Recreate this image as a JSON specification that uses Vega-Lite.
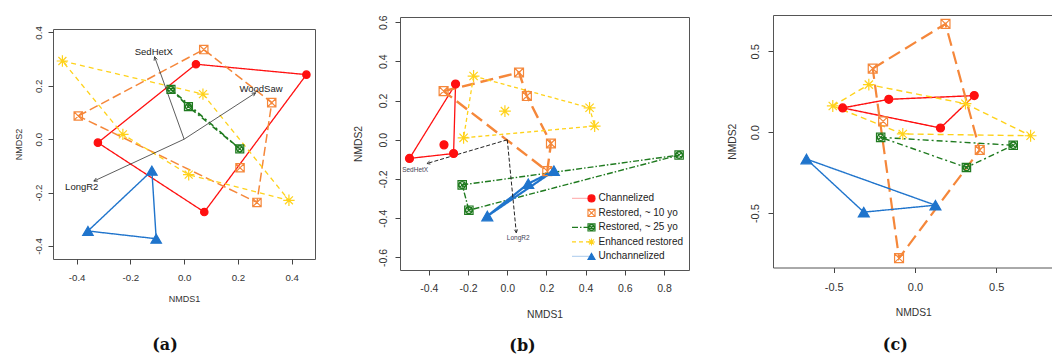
{
"$schema": "https://vega.github.io/schema/vega-lite/v6.json",
"padding": {"left": 13, "top": 0, "right": 0, "bottom": 0},
"config": {
  "font": "Liberation Sans",
  "view": {"stroke": "#555", "strokeWidth": 1},
  "axis": {"grid": false, "domain": false, "domainColor": "#555", "tickColor": "#444", "tickSize": 5, "labelColor": "#333", "titleColor": "#333", "titleFontWeight": "normal", "labelFont": "Liberation Sans", "titleFont": "Liberation Sans", "labelOverlap": false, "labelFlush": false},
  "legend": {"labelFont": "Liberation Sans", "symbolSize": 50}
},
"datasets": {
  "pts": [
    {"panel":"a","group":"Channelized","NMDS1":-0.321,"NMDS2":-0.013},
    {"panel":"a","group":"Channelized","NMDS1":0.044,"NMDS2":0.281},
    {"panel":"a","group":"Channelized","NMDS1":0.455,"NMDS2":0.242},
    {"panel":"a","group":"Channelized","NMDS1":0.075,"NMDS2":-0.273},
    {"panel":"a","group":"Restored, ~ 10 yo","NMDS1":-0.394,"NMDS2":0.087},
    {"panel":"a","group":"Restored, ~ 10 yo","NMDS1":0.073,"NMDS2":0.336},
    {"panel":"a","group":"Restored, ~ 10 yo","NMDS1":0.326,"NMDS2":0.137},
    {"panel":"a","group":"Restored, ~ 10 yo","NMDS1":0.208,"NMDS2":-0.107},
    {"panel":"a","group":"Restored, ~ 10 yo","NMDS1":0.271,"NMDS2":-0.237},
    {"panel":"a","group":"Restored, ~ 25 yo","NMDS1":-0.049,"NMDS2":0.187},
    {"panel":"a","group":"Restored, ~ 25 yo","NMDS1":0.016,"NMDS2":0.122},
    {"panel":"a","group":"Restored, ~ 25 yo","NMDS1":0.207,"NMDS2":-0.036},
    {"panel":"a","group":"Enhanced restored","NMDS1":-0.453,"NMDS2":0.293},
    {"panel":"a","group":"Enhanced restored","NMDS1":0.070,"NMDS2":0.169},
    {"panel":"a","group":"Enhanced restored","NMDS1":-0.228,"NMDS2":0.018},
    {"panel":"a","group":"Enhanced restored","NMDS1":0.017,"NMDS2":-0.133},
    {"panel":"a","group":"Enhanced restored","NMDS1":0.390,"NMDS2":-0.229},
    {"panel":"a","group":"Unchannelized","NMDS1":-0.120,"NMDS2":-0.118},
    {"panel":"a","group":"Unchannelized","NMDS1":-0.358,"NMDS2":-0.344},
    {"panel":"a","group":"Unchannelized","NMDS1":-0.104,"NMDS2":-0.373},
    {"panel":"b","group":"Channelized","NMDS1":-0.264,"NMDS2":0.284},
    {"panel":"b","group":"Channelized","NMDS1":-0.499,"NMDS2":-0.095},
    {"panel":"b","group":"Channelized","NMDS1":-0.274,"NMDS2":-0.070},
    {"panel":"b","group":"Channelized","NMDS1":-0.323,"NMDS2":-0.026},
    {"panel":"b","group":"Restored, ~ 10 yo","NMDS1":-0.325,"NMDS2":0.248},
    {"panel":"b","group":"Restored, ~ 10 yo","NMDS1":0.060,"NMDS2":0.343},
    {"panel":"b","group":"Restored, ~ 10 yo","NMDS1":0.100,"NMDS2":0.223},
    {"panel":"b","group":"Restored, ~ 10 yo","NMDS1":0.223,"NMDS2":-0.019},
    {"panel":"b","group":"Restored, ~ 10 yo","NMDS1":0.204,"NMDS2":-0.160},
    {"panel":"b","group":"Restored, ~ 25 yo","NMDS1":0.877,"NMDS2":-0.078},
    {"panel":"b","group":"Restored, ~ 25 yo","NMDS1":-0.230,"NMDS2":-0.230},
    {"panel":"b","group":"Restored, ~ 25 yo","NMDS1":-0.196,"NMDS2":-0.359},
    {"panel":"b","group":"Enhanced restored","NMDS1":-0.172,"NMDS2":0.325},
    {"panel":"b","group":"Enhanced restored","NMDS1":-0.012,"NMDS2":0.146},
    {"panel":"b","group":"Enhanced restored","NMDS1":0.420,"NMDS2":0.163},
    {"panel":"b","group":"Enhanced restored","NMDS1":0.446,"NMDS2":0.070},
    {"panel":"b","group":"Enhanced restored","NMDS1":-0.223,"NMDS2":0.010},
    {"panel":"b","group":"Unchannelized","NMDS1":0.238,"NMDS2":-0.158},
    {"panel":"b","group":"Unchannelized","NMDS1":0.107,"NMDS2":-0.224},
    {"panel":"b","group":"Unchannelized","NMDS1":-0.102,"NMDS2":-0.389},
    {"panel":"c","group":"Channelized","NMDS1":-0.445,"NMDS2":0.150},
    {"panel":"c","group":"Channelized","NMDS1":-0.161,"NMDS2":0.203},
    {"panel":"c","group":"Channelized","NMDS1":0.365,"NMDS2":0.226},
    {"panel":"c","group":"Channelized","NMDS1":0.157,"NMDS2":0.026},
    {"panel":"c","group":"Restored, ~ 10 yo","NMDS1":0.188,"NMDS2":0.669},
    {"panel":"c","group":"Restored, ~ 10 yo","NMDS1":-0.260,"NMDS2":0.393},
    {"panel":"c","group":"Restored, ~ 10 yo","NMDS1":-0.196,"NMDS2":0.067},
    {"panel":"c","group":"Restored, ~ 10 yo","NMDS1":0.399,"NMDS2":-0.110},
    {"panel":"c","group":"Restored, ~ 10 yo","NMDS1":-0.098,"NMDS2":-0.778},
    {"panel":"c","group":"Restored, ~ 25 yo","NMDS1":-0.211,"NMDS2":-0.032},
    {"panel":"c","group":"Restored, ~ 25 yo","NMDS1":0.605,"NMDS2":-0.081},
    {"panel":"c","group":"Restored, ~ 25 yo","NMDS1":0.317,"NMDS2":-0.218},
    {"panel":"c","group":"Enhanced restored","NMDS1":-0.506,"NMDS2":0.162},
    {"panel":"c","group":"Enhanced restored","NMDS1":-0.284,"NMDS2":0.294},
    {"panel":"c","group":"Enhanced restored","NMDS1":0.311,"NMDS2":0.176},
    {"panel":"c","group":"Enhanced restored","NMDS1":0.712,"NMDS2":-0.022},
    {"panel":"c","group":"Enhanced restored","NMDS1":-0.075,"NMDS2":-0.011},
    {"panel":"c","group":"Unchannelized","NMDS1":-0.668,"NMDS2":-0.166},
    {"panel":"c","group":"Unchannelized","NMDS1":0.126,"NMDS2":-0.451},
    {"panel":"c","group":"Unchannelized","NMDS1":-0.315,"NMDS2":-0.494}
  ],
  "hull": [
    {"panel":"a","group":"Channelized","i":0,"NMDS1":-0.321,"NMDS2":-0.013},
    {"panel":"a","group":"Channelized","i":1,"NMDS1":0.044,"NMDS2":0.281},
    {"panel":"a","group":"Channelized","i":2,"NMDS1":0.455,"NMDS2":0.242},
    {"panel":"a","group":"Channelized","i":3,"NMDS1":0.075,"NMDS2":-0.273},
    {"panel":"a","group":"Channelized","i":4,"NMDS1":-0.321,"NMDS2":-0.013},
    {"panel":"a","group":"Restored, ~ 10 yo","i":0,"NMDS1":-0.394,"NMDS2":0.087},
    {"panel":"a","group":"Restored, ~ 10 yo","i":1,"NMDS1":0.073,"NMDS2":0.336},
    {"panel":"a","group":"Restored, ~ 10 yo","i":2,"NMDS1":0.326,"NMDS2":0.137},
    {"panel":"a","group":"Restored, ~ 10 yo","i":3,"NMDS1":0.271,"NMDS2":-0.237},
    {"panel":"a","group":"Restored, ~ 10 yo","i":4,"NMDS1":-0.394,"NMDS2":0.087},
    {"panel":"a","group":"Restored, ~ 25 yo","i":0,"NMDS1":-0.049,"NMDS2":0.187},
    {"panel":"a","group":"Restored, ~ 25 yo","i":1,"NMDS1":0.016,"NMDS2":0.122},
    {"panel":"a","group":"Restored, ~ 25 yo","i":2,"NMDS1":0.207,"NMDS2":-0.036},
    {"panel":"a","group":"Restored, ~ 25 yo","i":3,"NMDS1":-0.049,"NMDS2":0.187},
    {"panel":"a","group":"Enhanced restored","i":0,"NMDS1":-0.453,"NMDS2":0.293},
    {"panel":"a","group":"Enhanced restored","i":1,"NMDS1":0.070,"NMDS2":0.169},
    {"panel":"a","group":"Enhanced restored","i":2,"NMDS1":0.390,"NMDS2":-0.229},
    {"panel":"a","group":"Enhanced restored","i":3,"NMDS1":0.017,"NMDS2":-0.133},
    {"panel":"a","group":"Enhanced restored","i":4,"NMDS1":-0.228,"NMDS2":0.018},
    {"panel":"a","group":"Enhanced restored","i":5,"NMDS1":-0.453,"NMDS2":0.293},
    {"panel":"a","group":"Unchannelized","i":0,"NMDS1":-0.120,"NMDS2":-0.118},
    {"panel":"a","group":"Unchannelized","i":1,"NMDS1":-0.358,"NMDS2":-0.344},
    {"panel":"a","group":"Unchannelized","i":2,"NMDS1":-0.104,"NMDS2":-0.373},
    {"panel":"a","group":"Unchannelized","i":3,"NMDS1":-0.120,"NMDS2":-0.118},
    {"panel":"b","group":"Channelized","i":0,"NMDS1":-0.264,"NMDS2":0.284},
    {"panel":"b","group":"Channelized","i":1,"NMDS1":-0.499,"NMDS2":-0.095},
    {"panel":"b","group":"Channelized","i":2,"NMDS1":-0.274,"NMDS2":-0.070},
    {"panel":"b","group":"Channelized","i":3,"NMDS1":-0.264,"NMDS2":0.284},
    {"panel":"b","group":"Restored, ~ 10 yo","i":0,"NMDS1":-0.325,"NMDS2":0.248},
    {"panel":"b","group":"Restored, ~ 10 yo","i":1,"NMDS1":0.060,"NMDS2":0.343},
    {"panel":"b","group":"Restored, ~ 10 yo","i":2,"NMDS1":0.100,"NMDS2":0.223},
    {"panel":"b","group":"Restored, ~ 10 yo","i":3,"NMDS1":0.223,"NMDS2":-0.019},
    {"panel":"b","group":"Restored, ~ 10 yo","i":4,"NMDS1":0.204,"NMDS2":-0.160},
    {"panel":"b","group":"Restored, ~ 10 yo","i":5,"NMDS1":-0.325,"NMDS2":0.248},
    {"panel":"b","group":"Restored, ~ 25 yo","i":0,"NMDS1":-0.230,"NMDS2":-0.230},
    {"panel":"b","group":"Restored, ~ 25 yo","i":1,"NMDS1":0.877,"NMDS2":-0.078},
    {"panel":"b","group":"Restored, ~ 25 yo","i":2,"NMDS1":-0.196,"NMDS2":-0.359},
    {"panel":"b","group":"Restored, ~ 25 yo","i":3,"NMDS1":-0.230,"NMDS2":-0.230},
    {"panel":"b","group":"Enhanced restored","i":0,"NMDS1":-0.172,"NMDS2":0.325},
    {"panel":"b","group":"Enhanced restored","i":1,"NMDS1":0.420,"NMDS2":0.163},
    {"panel":"b","group":"Enhanced restored","i":2,"NMDS1":0.446,"NMDS2":0.070},
    {"panel":"b","group":"Enhanced restored","i":3,"NMDS1":-0.223,"NMDS2":0.010},
    {"panel":"b","group":"Enhanced restored","i":4,"NMDS1":-0.172,"NMDS2":0.325},
    {"panel":"b","group":"Unchannelized","i":0,"NMDS1":0.238,"NMDS2":-0.158},
    {"panel":"b","group":"Unchannelized","i":1,"NMDS1":0.107,"NMDS2":-0.224},
    {"panel":"b","group":"Unchannelized","i":2,"NMDS1":-0.102,"NMDS2":-0.389},
    {"panel":"b","group":"Unchannelized","i":3,"NMDS1":0.238,"NMDS2":-0.158},
    {"panel":"c","group":"Channelized","i":0,"NMDS1":-0.445,"NMDS2":0.150},
    {"panel":"c","group":"Channelized","i":1,"NMDS1":-0.161,"NMDS2":0.203},
    {"panel":"c","group":"Channelized","i":2,"NMDS1":0.365,"NMDS2":0.226},
    {"panel":"c","group":"Channelized","i":3,"NMDS1":0.157,"NMDS2":0.026},
    {"panel":"c","group":"Channelized","i":4,"NMDS1":-0.445,"NMDS2":0.150},
    {"panel":"c","group":"Restored, ~ 10 yo","i":0,"NMDS1":-0.260,"NMDS2":0.393},
    {"panel":"c","group":"Restored, ~ 10 yo","i":1,"NMDS1":0.188,"NMDS2":0.669},
    {"panel":"c","group":"Restored, ~ 10 yo","i":2,"NMDS1":0.399,"NMDS2":-0.110},
    {"panel":"c","group":"Restored, ~ 10 yo","i":3,"NMDS1":-0.098,"NMDS2":-0.778},
    {"panel":"c","group":"Restored, ~ 10 yo","i":4,"NMDS1":-0.260,"NMDS2":0.393},
    {"panel":"c","group":"Restored, ~ 25 yo","i":0,"NMDS1":-0.211,"NMDS2":-0.032},
    {"panel":"c","group":"Restored, ~ 25 yo","i":1,"NMDS1":0.605,"NMDS2":-0.081},
    {"panel":"c","group":"Restored, ~ 25 yo","i":2,"NMDS1":0.317,"NMDS2":-0.218},
    {"panel":"c","group":"Restored, ~ 25 yo","i":3,"NMDS1":-0.211,"NMDS2":-0.032},
    {"panel":"c","group":"Enhanced restored","i":0,"NMDS1":-0.506,"NMDS2":0.162},
    {"panel":"c","group":"Enhanced restored","i":1,"NMDS1":-0.284,"NMDS2":0.294},
    {"panel":"c","group":"Enhanced restored","i":2,"NMDS1":0.311,"NMDS2":0.176},
    {"panel":"c","group":"Enhanced restored","i":3,"NMDS1":0.712,"NMDS2":-0.022},
    {"panel":"c","group":"Enhanced restored","i":4,"NMDS1":-0.075,"NMDS2":-0.011},
    {"panel":"c","group":"Enhanced restored","i":5,"NMDS1":-0.506,"NMDS2":0.162},
    {"panel":"c","group":"Unchannelized","i":0,"NMDS1":-0.668,"NMDS2":-0.166},
    {"panel":"c","group":"Unchannelized","i":1,"NMDS1":0.126,"NMDS2":-0.451},
    {"panel":"c","group":"Unchannelized","i":2,"NMDS1":-0.315,"NMDS2":-0.494},
    {"panel":"c","group":"Unchannelized","i":3,"NMDS1":-0.668,"NMDS2":-0.166}
  ],
  "vec": [
    {"panel":"a","var":"SedHetX","x0":0,"y0":0,"NMDS1":-0.110,"NMDS2":0.309,"lx":-0.113,"ly":0.325},
    {"panel":"a","var":"WoodSaw","x0":0,"y0":0,"NMDS1":0.266,"NMDS2":0.174,"lx":0.286,"ly":0.188},
    {"panel":"a","var":"LongR2","x0":0,"y0":0,"NMDS1":-0.336,"NMDS2":-0.157,"lx":-0.381,"ly":-0.178},
    {"panel":"b","var":"SedHetX","x0":0,"y0":0,"NMDS1":-0.410,"NMDS2":-0.121,"lx":-0.470,"ly":-0.152},
    {"panel":"b","var":"LongR2","x0":0,"y0":0,"NMDS1":0.046,"NMDS2":-0.474,"lx":0.056,"ly":-0.503}
  ]
},
"columns": 3,
"align": "none",
"spacing": 36,
"resolve": {"scale": {"color": "independent", "stroke": "independent", "fill": "independent", "shape": "independent", "size": "independent", "strokeDash": "independent", "strokeWidth": "independent"}},
"concat": [
  {
  "spacing": 0,
  "vconcat": [
  {"width": 10, "height": 25, "view": {"stroke": null}, "data": {"values": [{}]}, "mark": {"type": "point", "opacity": 0}},
  {
    "width": 262, "height": 230,
    "title": {"text": "(a)", "orient": "bottom", "anchor": "middle", "frame": "group", "dx": -19, "offset": 33.5, "font": "DejaVu Serif", "fontSize": 16, "fontWeight": "bold", "color": "#111"},
    "layer": [
      {
        "data": {"name": "hull"},
        "transform": [{"filter": "datum.panel === 'a'"}],
        "mark": {"type": "line"},
        "encoding": {
          "x": {"field": "NMDS1", "type": "quantitative", "scale": {"domain": [-0.488, 0.487], "nice": false, "zero": false},
                "axis": {"orient": "bottom", "values": [-0.4, -0.2, 0, 0.2, 0.4], "labelExpr": "replace(format(datum.value, '.1f'), '−', '-')", "labelFontSize": 9.7, "labelPadding": 8, "titleFontSize": 9, "titlePadding": 13, "title": "NMDS1"}},
          "y": {"field": "NMDS2", "type": "quantitative", "scale": {"domain": [-0.449, 0.413], "nice": false, "zero": false},
                "axis": {"orient": "left", "values": [-0.4, -0.2, 0, 0.2, 0.4], "labelExpr": "replace(format(datum.value, '.1f'), '−', '-')", "labelAngle": -90, "labelAlign": "center", "labelBaseline": "bottom", "labelFontSize": 9.7, "labelPadding": 5, "titleFontSize": 9, "titlePadding": 9.5, "title": "NMDS2"}},
          "order": {"field": "i", "type": "quantitative"},
          "color": {"field": "group", "type": "nominal", "scale": {"domain": ["Unchannelized", "Enhanced restored", "Restored, ~ 25 yo", "Restored, ~ 10 yo", "Channelized"], "range": ["#1f74cc", "#ffd21a", "#1f7a1f", "#f5873a", "#ff1010"]}, "legend": null},
          "strokeDash": {"field": "group", "type": "nominal", "scale": {"type": "ordinal", "domain": ["Unchannelized", "Enhanced restored", "Restored, ~ 25 yo", "Restored, ~ 10 yo", "Channelized"], "range": [[1, 0], [5, 4], [6, 3, 2, 3], [9, 4], [1, 0]]}, "legend": null},
          "strokeWidth": {"field": "group", "type": "nominal", "scale": {"type": "ordinal", "domain": ["Unchannelized", "Enhanced restored", "Restored, ~ 25 yo", "Restored, ~ 10 yo", "Channelized"], "range": [1.4, 1.3, 1.6, 1.5, 1.3]}, "legend": null}
        }
      },
      {
        "data": {"name": "vec"},
        "transform": [{"filter": "datum.panel === 'a'"}],
        "mark": {"type": "rule", "color": "#333", "strokeWidth": 0.8},
        "encoding": {
          "x": {"field": "x0", "type": "quantitative", "scale": {"domain": [-0.488, 0.487], "nice": false, "zero": false},
                "axis": {"orient": "bottom", "values": [-0.4, -0.2, 0, 0.2, 0.4], "labelExpr": "replace(format(datum.value, '.1f'), '−', '-')", "labelFontSize": 9.7, "labelPadding": 8, "titleFontSize": 9, "titlePadding": 13, "title": "NMDS1"}},
          "y": {"field": "y0", "type": "quantitative", "scale": {"domain": [-0.449, 0.413], "nice": false, "zero": false},
                "axis": {"orient": "left", "values": [-0.4, -0.2, 0, 0.2, 0.4], "labelExpr": "replace(format(datum.value, '.1f'), '−', '-')", "labelAngle": -90, "labelAlign": "center", "labelBaseline": "bottom", "labelFontSize": 9.7, "labelPadding": 5, "titleFontSize": 9, "titlePadding": 9.5, "title": "NMDS2"}},
          "x2": {"field": "NMDS1"},
          "y2": {"field": "NMDS2"}
        }
      },
      {
        "data": {"name": "vec"},
        "transform": [{"filter": "datum.panel === 'a'"}, {"calculate": "atan2(datum.NMDS1 - datum.x0, datum.NMDS2 - datum.y0) * 180 / PI", "as": "ang"}],
        "mark": {"type": "point", "shape": "M-0.5,1L0,0L0.5,1", "filled": false, "color": "#333", "strokeWidth": 0.8, "size": 50, "opacity": 1},
        "encoding": {
          "x": {"field": "NMDS1", "type": "quantitative", "scale": {"domain": [-0.488, 0.487], "nice": false, "zero": false},
                "axis": {"orient": "bottom", "values": [-0.4, -0.2, 0, 0.2, 0.4], "labelExpr": "replace(format(datum.value, '.1f'), '−', '-')", "labelFontSize": 9.7, "labelPadding": 8, "titleFontSize": 9, "titlePadding": 13, "title": "NMDS1"}},
          "y": {"field": "NMDS2", "type": "quantitative", "scale": {"domain": [-0.449, 0.413], "nice": false, "zero": false},
                "axis": {"orient": "left", "values": [-0.4, -0.2, 0, 0.2, 0.4], "labelExpr": "replace(format(datum.value, '.1f'), '−', '-')", "labelAngle": -90, "labelAlign": "center", "labelBaseline": "bottom", "labelFontSize": 9.7, "labelPadding": 5, "titleFontSize": 9, "titlePadding": 9.5, "title": "NMDS2"}},
          "angle": {"field": "ang", "type": "quantitative", "scale": null}
        }
      },
      {
        "data": {"name": "vec"},
        "transform": [{"filter": "datum.panel === 'a'"}],
        "mark": {"type": "text", "fontSize": 9.5, "color": "#222", "font": "Liberation Sans"},
        "encoding": {
          "x": {"field": "lx", "type": "quantitative", "scale": {"domain": [-0.488, 0.487], "nice": false, "zero": false},
                "axis": {"orient": "bottom", "values": [-0.4, -0.2, 0, 0.2, 0.4], "labelExpr": "replace(format(datum.value, '.1f'), '−', '-')", "labelFontSize": 9.7, "labelPadding": 8, "titleFontSize": 9, "titlePadding": 13, "title": "NMDS1"}},
          "y": {"field": "ly", "type": "quantitative", "scale": {"domain": [-0.449, 0.413], "nice": false, "zero": false},
                "axis": {"orient": "left", "values": [-0.4, -0.2, 0, 0.2, 0.4], "labelExpr": "replace(format(datum.value, '.1f'), '−', '-')", "labelAngle": -90, "labelAlign": "center", "labelBaseline": "bottom", "labelFontSize": 9.7, "labelPadding": 5, "titleFontSize": 9, "titlePadding": 9.5, "title": "NMDS2"}},
          "text": {"field": "var"}
        }
      },
      {
        "data": {"name": "pts"},
        "transform": [{"filter": "datum.panel === 'a'"}],
        "mark": {"type": "point", "strokeWidth": 1.2, "opacity": 1},
        "encoding": {
          "x": {"field": "NMDS1", "type": "quantitative", "scale": {"domain": [-0.488, 0.487], "nice": false, "zero": false},
                "axis": {"orient": "bottom", "values": [-0.4, -0.2, 0, 0.2, 0.4], "labelExpr": "replace(format(datum.value, '.1f'), '−', '-')", "labelFontSize": 9.7, "labelPadding": 8, "titleFontSize": 9, "titlePadding": 13, "title": "NMDS1"}},
          "y": {"field": "NMDS2", "type": "quantitative", "scale": {"domain": [-0.449, 0.413], "nice": false, "zero": false},
                "axis": {"orient": "left", "values": [-0.4, -0.2, 0, 0.2, 0.4], "labelExpr": "replace(format(datum.value, '.1f'), '−', '-')", "labelAngle": -90, "labelAlign": "center", "labelBaseline": "bottom", "labelFontSize": 9.7, "labelPadding": 5, "titleFontSize": 9, "titlePadding": 9.5, "title": "NMDS2"}},
          "stroke": {"field": "group", "type": "nominal", "scale": {"domain": ["Channelized", "Restored, ~ 10 yo", "Restored, ~ 25 yo", "Enhanced restored", "Unchannelized"], "range": ["#ff1010", "#f5873a", "#1f7a1f", "#ffd21a", "#1f74cc"]}, "legend": null},
          "fill": {"field": "group", "type": "nominal", "scale": {"domain": ["Channelized", "Restored, ~ 10 yo", "Restored, ~ 25 yo", "Enhanced restored", "Unchannelized"], "range": ["#ff1010", "transparent", "transparent", "transparent", "#1f74cc"]}, "legend": null},
          "shape": {"field": "group", "type": "nominal", "scale": {"domain": ["Channelized", "Restored, ~ 10 yo", "Restored, ~ 25 yo", "Enhanced restored", "Unchannelized"], "range": ["circle", "M-1,-1L1,-1L1,1L-1,1Z M-1,-1L1,1 M1,-1L-1,1", "M-1,-1L1,-1L1,1L-1,1Z M-0.7,-0.7L0.7,0.7 M0.7,-0.7L-0.7,0.7 M0.75,0A0.75,0.75 0 1,1 -0.75,0A0.75,0.75 0 1,1 0.75,0", "M-1,0L1,0M0,-1L0,1M-0.7,-0.7L0.7,0.7M-0.7,0.7L0.7,-0.7", "triangle-up"]}, "legend": null},
          "size": {"field": "group", "type": "nominal", "scale": {"type": "ordinal", "domain": ["Channelized", "Restored, ~ 10 yo", "Restored, ~ 25 yo", "Enhanced restored", "Unchannelized"], "range": [55, 70, 64, 130, 110]}, "legend": null}
        }
      }
    ]
  }
  ]
  },
  {
  "spacing": 0,
  "vconcat": [
  {"width": 10, "height": 13.7, "view": {"stroke": null}, "data": {"values": [{}]}, "mark": {"type": "point", "opacity": 0}},
  {
    "width": 289, "height": 253,
    "title": {"text": "(b)", "orient": "bottom", "anchor": "middle", "frame": "group", "dx": -22, "offset": 18.5, "font": "DejaVu Serif", "fontSize": 16, "fontWeight": "bold", "color": "#111"},
    "layer": [
      {
        "data": {"name": "hull"},
        "transform": [{"filter": "datum.panel === 'b'"}],
        "mark": {"type": "line"},
        "encoding": {
          "x": {"field": "NMDS1", "type": "quantitative", "scale": {"domain": [-0.5475, 0.9275], "nice": false, "zero": false},
                "axis": {"orient": "bottom", "values": [-0.4, -0.2, 0, 0.2, 0.4, 0.6, 0.8], "labelExpr": "replace(format(datum.value, '.1f'), '−', '-')", "labelFontSize": 10.5, "labelPadding": 8, "titleFontSize": 10.3, "titlePadding": 15.5, "title": "NMDS1"}},
          "y": {"field": "NMDS2", "type": "quantitative", "scale": {"domain": [-0.664, 0.626], "nice": false, "zero": false},
                "axis": {"orient": "left", "values": [-0.6, -0.4, -0.2, 0, 0.2, 0.4, 0.6], "labelExpr": "replace(format(datum.value, '.1f'), '−', '-')", "labelAngle": -90, "labelAlign": "center", "labelBaseline": "bottom", "labelFontSize": 10.5, "labelPadding": 7, "titleFontSize": 10.3, "titlePadding": 15, "title": "NMDS2"}},
          "order": {"field": "i", "type": "quantitative"},
          "color": {"field": "group", "type": "nominal", "scale": {"domain": ["Unchannelized", "Enhanced restored", "Restored, ~ 25 yo", "Restored, ~ 10 yo", "Channelized"], "range": ["#1f74cc", "#ffd21a", "#1f7a1f", "#f5873a", "#ff1010"]},
                    "legend": {"orient": "none", "legendX": 171, "legendY": 192.3, "title": null, "values": ["Channelized", "Restored, ~ 10 yo", "Restored, ~ 25 yo", "Enhanced restored", "Unchannelized"], "symbolType": "stroke", "symbolSize": 361, "symbolStrokeWidth": 1.2, "labelExpr": "''", "labelFontSize": 10, "labelOffset": 0, "rowPadding": 1.5, "clipHeight": 12.25, "padding": 0,
                               "encode": {"symbols": {"update": {"strokeOpacity": {"signal": "datum.value === 'Restored, ~ 10 yo' ? 0 : ((datum.value === 'Channelized' || datum.value === 'Unchannelized') ? 0.3 : 1)"}}}}}},
          "strokeDash": {"field": "group", "type": "nominal", "scale": {"type": "ordinal", "domain": ["Unchannelized", "Enhanced restored", "Restored, ~ 25 yo", "Restored, ~ 10 yo", "Channelized"], "range": [[1, 0], [4, 3], [6, 2, 1.5, 2], [13, 6], [1, 0]]}},
          "strokeWidth": {"field": "group", "type": "nominal", "scale": {"type": "ordinal", "domain": ["Channelized", "Unchannelized", "Enhanced restored", "Restored, ~ 25 yo", "Restored, ~ 10 yo"], "range": [1.3, 2.2, 1.3, 1.4, 2.4]}, "legend": null}
        }
      },
      {
        "data": {"name": "vec"},
        "transform": [{"filter": "datum.panel === 'b'"}],
        "mark": {"type": "rule", "color": "#222", "strokeWidth": 1, "strokeDash": [4, 2]},
        "encoding": {
          "x": {"field": "x0", "type": "quantitative", "scale": {"domain": [-0.5475, 0.9275], "nice": false, "zero": false},
                "axis": {"orient": "bottom", "values": [-0.4, -0.2, 0, 0.2, 0.4, 0.6, 0.8], "labelExpr": "replace(format(datum.value, '.1f'), '−', '-')", "labelFontSize": 10.5, "labelPadding": 8, "titleFontSize": 10.3, "titlePadding": 15.5, "title": "NMDS1"}},
          "y": {"field": "y0", "type": "quantitative", "scale": {"domain": [-0.664, 0.626], "nice": false, "zero": false},
                "axis": {"orient": "left", "values": [-0.6, -0.4, -0.2, 0, 0.2, 0.4, 0.6], "labelExpr": "replace(format(datum.value, '.1f'), '−', '-')", "labelAngle": -90, "labelAlign": "center", "labelBaseline": "bottom", "labelFontSize": 10.5, "labelPadding": 7, "titleFontSize": 10.3, "titlePadding": 15, "title": "NMDS2"}},
          "x2": {"field": "NMDS1"},
          "y2": {"field": "NMDS2"}
        }
      },
      {
        "data": {"name": "vec"},
        "transform": [{"filter": "datum.panel === 'b'"}, {"calculate": "atan2(datum.NMDS1 - datum.x0, datum.NMDS2 - datum.y0) * 180 / PI", "as": "ang"}],
        "mark": {"type": "point", "shape": "M-0.5,1L0,0L0.5,1", "filled": false, "color": "#222", "strokeWidth": 0.8, "size": 40, "opacity": 1},
        "encoding": {
          "x": {"field": "NMDS1", "type": "quantitative", "scale": {"domain": [-0.5475, 0.9275], "nice": false, "zero": false},
                "axis": {"orient": "bottom", "values": [-0.4, -0.2, 0, 0.2, 0.4, 0.6, 0.8], "labelExpr": "replace(format(datum.value, '.1f'), '−', '-')", "labelFontSize": 10.5, "labelPadding": 8, "titleFontSize": 10.3, "titlePadding": 15.5, "title": "NMDS1"}},
          "y": {"field": "NMDS2", "type": "quantitative", "scale": {"domain": [-0.664, 0.626], "nice": false, "zero": false},
                "axis": {"orient": "left", "values": [-0.6, -0.4, -0.2, 0, 0.2, 0.4, 0.6], "labelExpr": "replace(format(datum.value, '.1f'), '−', '-')", "labelAngle": -90, "labelAlign": "center", "labelBaseline": "bottom", "labelFontSize": 10.5, "labelPadding": 7, "titleFontSize": 10.3, "titlePadding": 15, "title": "NMDS2"}},
          "angle": {"field": "ang", "type": "quantitative", "scale": null}
        }
      },
      {
        "data": {"name": "vec"},
        "transform": [{"filter": "datum.panel === 'b'"}],
        "mark": {"type": "text", "fontSize": 6.5, "color": "#445", "font": "Liberation Sans"},
        "encoding": {
          "x": {"field": "lx", "type": "quantitative", "scale": {"domain": [-0.5475, 0.9275], "nice": false, "zero": false},
                "axis": {"orient": "bottom", "values": [-0.4, -0.2, 0, 0.2, 0.4, 0.6, 0.8], "labelExpr": "replace(format(datum.value, '.1f'), '−', '-')", "labelFontSize": 10.5, "labelPadding": 8, "titleFontSize": 10.3, "titlePadding": 15.5, "title": "NMDS1"}},
          "y": {"field": "ly", "type": "quantitative", "scale": {"domain": [-0.664, 0.626], "nice": false, "zero": false},
                "axis": {"orient": "left", "values": [-0.6, -0.4, -0.2, 0, 0.2, 0.4, 0.6], "labelExpr": "replace(format(datum.value, '.1f'), '−', '-')", "labelAngle": -90, "labelAlign": "center", "labelBaseline": "bottom", "labelFontSize": 10.5, "labelPadding": 7, "titleFontSize": 10.3, "titlePadding": 15, "title": "NMDS2"}},
          "text": {"field": "var"}
        }
      },
      {
        "data": {"name": "pts"},
        "transform": [{"filter": "datum.panel === 'b'"}],
        "mark": {"type": "point", "strokeWidth": 1.2, "opacity": 1},
        "encoding": {
          "x": {"field": "NMDS1", "type": "quantitative", "scale": {"domain": [-0.5475, 0.9275], "nice": false, "zero": false},
                "axis": {"orient": "bottom", "values": [-0.4, -0.2, 0, 0.2, 0.4, 0.6, 0.8], "labelExpr": "replace(format(datum.value, '.1f'), '−', '-')", "labelFontSize": 10.5, "labelPadding": 8, "titleFontSize": 10.3, "titlePadding": 15.5, "title": "NMDS1"}},
          "y": {"field": "NMDS2", "type": "quantitative", "scale": {"domain": [-0.664, 0.626], "nice": false, "zero": false},
                "axis": {"orient": "left", "values": [-0.6, -0.4, -0.2, 0, 0.2, 0.4, 0.6], "labelExpr": "replace(format(datum.value, '.1f'), '−', '-')", "labelAngle": -90, "labelAlign": "center", "labelBaseline": "bottom", "labelFontSize": 10.5, "labelPadding": 7, "titleFontSize": 10.3, "titlePadding": 15, "title": "NMDS2"}},
          "stroke": {"field": "group", "type": "nominal", "scale": {"domain": ["Channelized", "Restored, ~ 10 yo", "Restored, ~ 25 yo", "Enhanced restored", "Unchannelized"], "range": ["#ff1010", "#f5873a", "#1f7a1f", "#ffd21a", "#1f74cc"]},
                     "legend": {"orient": "none", "legendX": 186.5, "legendY": 192.3, "title": null, "labelFontSize": 10, "labelColor": "#222", "labelOffset": 2, "rowPadding": 1.5, "clipHeight": 12.25, "padding": 0, "symbolStrokeWidth": 1.1, "symbolSize": 50}},
          "fill": {"field": "group", "type": "nominal", "scale": {"domain": ["Channelized", "Restored, ~ 10 yo", "Restored, ~ 25 yo", "Enhanced restored", "Unchannelized"], "range": ["#ff1010", "transparent", "transparent", "transparent", "#1f74cc"]}},
          "shape": {"field": "group", "type": "nominal", "scale": {"domain": ["Channelized", "Restored, ~ 10 yo", "Restored, ~ 25 yo", "Enhanced restored", "Unchannelized"], "range": ["circle", "M-1,-1L1,-1L1,1L-1,1Z M-1,-1L1,1 M1,-1L-1,1", "M-1,-1L1,-1L1,1L-1,1Z M-0.7,-0.7L0.7,0.7 M0.7,-0.7L-0.7,0.7 M0.75,0A0.75,0.75 0 1,1 -0.75,0A0.75,0.75 0 1,1 0.75,0", "M-1,0L1,0M0,-1L0,1M-0.7,-0.7L0.7,0.7M-0.7,0.7L0.7,-0.7", "triangle-up"]}},
          "size": {"field": "group", "type": "nominal", "scale": {"type": "ordinal", "domain": ["Enhanced restored", "Unchannelized", "Restored, ~ 25 yo", "Restored, ~ 10 yo", "Channelized"], "range": [140, 120, 70, 80, 64]}, "legend": null}
        }
      }
    ]
  }
  ]
  },
  {
  "spacing": 0,
  "vconcat": [
  {"width": 10, "height": 14.5, "view": {"stroke": null}, "data": {"values": [{}]}, "mark": {"type": "point", "opacity": 0}},
  {
    "width": 280.5, "height": 252.5,
    "view": {"stroke": null},
    "title": {"text": "(c)", "orient": "bottom", "anchor": "middle", "frame": "group", "dx": -18, "offset": 19.5, "font": "DejaVu Serif", "fontSize": 16, "fontWeight": "bold", "color": "#111"},
    "resolve": {"axis": {"x": "independent"}},
    "layer": [
      {
        "data": {"name": "hull"},
        "transform": [{"filter": "datum.panel === 'c'"}],
        "mark": {"type": "line"},
        "encoding": {
          "x": {"field": "NMDS1", "type": "quantitative", "scale": {"domain": [-0.874, 0.853], "nice": false, "zero": false},
                "axis": {"orient": "bottom", "values": [-0.5, 0, 0.5], "labelExpr": "replace(format(datum.value, '.1f'), '−', '-')", "domain": true, "labelFontSize": 11, "labelPadding": 9, "titleFontSize": 10.3, "titlePadding": 14.5, "title": "NMDS1"}},
          "y": {"field": "NMDS2", "type": "quantitative", "scale": {"domain": [-0.836, 0.724], "nice": false, "zero": false},
                "axis": {"orient": "left", "values": [-0.5, 0, 0.5], "labelExpr": "replace(format(datum.value, '.1f'), '−', '-')", "domain": true, "labelAngle": -90, "labelAlign": "center", "labelBaseline": "bottom", "labelFontSize": 11, "labelPadding": 8, "titleFontSize": 10.3, "titlePadding": 12, "title": "NMDS2"}},
          "order": {"field": "i", "type": "quantitative"},
          "color": {"field": "group", "type": "nominal", "scale": {"domain": ["Unchannelized", "Enhanced restored", "Restored, ~ 25 yo", "Restored, ~ 10 yo", "Channelized"], "range": ["#1f74cc", "#ffd21a", "#1f7a1f", "#f5873a", "#ff1010"]}, "legend": null},
          "strokeDash": {"field": "group", "type": "nominal", "scale": {"type": "ordinal", "domain": ["Unchannelized", "Enhanced restored", "Restored, ~ 25 yo", "Restored, ~ 10 yo", "Channelized"], "range": [[1, 0], [6, 4], [6, 3, 2, 3], [13, 6], [1, 0]]}, "legend": null},
          "strokeWidth": {"field": "group", "type": "nominal", "scale": {"type": "ordinal", "domain": ["Unchannelized", "Enhanced restored", "Restored, ~ 25 yo", "Restored, ~ 10 yo", "Channelized"], "range": [1.4, 1.4, 1.4, 2.2, 1.4]}, "legend": null}
        }
      },
      {
        "data": {"name": "pts"},
        "transform": [{"filter": "datum.panel === 'c'"}],
        "mark": {"type": "point", "strokeWidth": 1.2, "opacity": 1},
        "encoding": {
          "x": {"field": "NMDS1", "type": "quantitative", "scale": {"domain": [-0.874, 0.853], "nice": false, "zero": false},
                "axis": {"orient": "top", "labels": false, "ticks": false, "domain": true, "title": null}},
          "y": {"field": "NMDS2", "type": "quantitative", "scale": {"domain": [-0.836, 0.724], "nice": false, "zero": false},
                "axis": {"orient": "left", "values": [-0.5, 0, 0.5], "labelExpr": "replace(format(datum.value, '.1f'), '−', '-')", "domain": true, "labelAngle": -90, "labelAlign": "center", "labelBaseline": "bottom", "labelFontSize": 11, "labelPadding": 8, "titleFontSize": 10.3, "titlePadding": 12, "title": "NMDS2"}},
          "stroke": {"field": "group", "type": "nominal", "scale": {"domain": ["Channelized", "Restored, ~ 10 yo", "Restored, ~ 25 yo", "Enhanced restored", "Unchannelized"], "range": ["#ff1010", "#f5873a", "#1f7a1f", "#ffd21a", "#1f74cc"]}, "legend": null},
          "fill": {"field": "group", "type": "nominal", "scale": {"domain": ["Channelized", "Restored, ~ 10 yo", "Restored, ~ 25 yo", "Enhanced restored", "Unchannelized"], "range": ["#ff1010", "transparent", "transparent", "transparent", "#1f74cc"]}, "legend": null},
          "shape": {"field": "group", "type": "nominal", "scale": {"domain": ["Channelized", "Restored, ~ 10 yo", "Restored, ~ 25 yo", "Enhanced restored", "Unchannelized"], "range": ["circle", "M-1,-1L1,-1L1,1L-1,1Z M-1,-1L1,1 M1,-1L-1,1", "M-1,-1L1,-1L1,1L-1,1Z M-0.7,-0.7L0.7,0.7 M0.7,-0.7L-0.7,0.7 M0.75,0A0.75,0.75 0 1,1 -0.75,0A0.75,0.75 0 1,1 0.75,0", "M-1,0L1,0M0,-1L0,1M-0.7,-0.7L0.7,0.7M-0.7,0.7L0.7,-0.7", "triangle-up"]}, "legend": null},
          "size": {"field": "group", "type": "nominal", "scale": {"type": "ordinal", "domain": ["Channelized", "Restored, ~ 10 yo", "Restored, ~ 25 yo", "Enhanced restored", "Unchannelized"], "range": [64, 80, 70, 140, 120]}, "legend": null}
        }
      }
    ]
  }
  ]
  }
]
}
